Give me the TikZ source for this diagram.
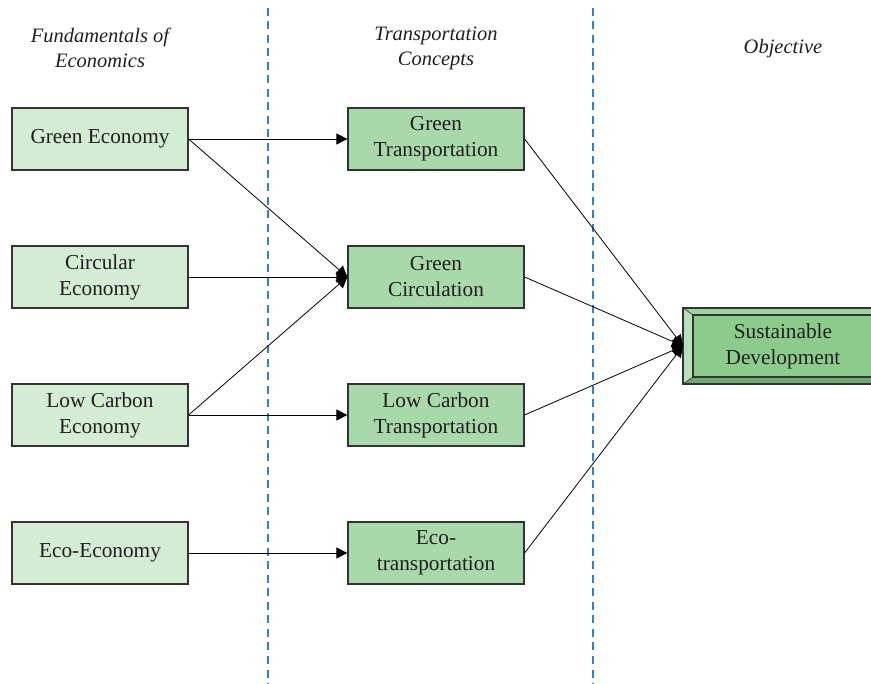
\documentclass[tikz,border=0pt]{standalone}
\usepackage{fontspec}
\setmainfont{Liberation Serif}
\usetikzlibrary{arrows.meta}
\definecolor{paleg}{HTML}{D4EBD4}
\definecolor{midg}{HTML}{A9D9AA}
\definecolor{goalg}{HTML}{8DCB8D}
\definecolor{goalbevL}{HTML}{B6E0B6}
\definecolor{goalbevB}{HTML}{6FA96F}
\definecolor{rule}{HTML}{2F80D0}
\definecolor{edge}{HTML}{333333}
\tikzset{
  every node/.style={font=\fontsize{21.3}{26}\selectfont, align=center, text=black!88},
  fundbox/.style={draw=edge, line width=1.2pt, fill=paleg, minimum width=176pt, minimum height=62pt, inner sep=0pt},
  conbox/.style={draw=edge, line width=1.2pt, fill=midg, minimum width=176pt, minimum height=62pt, inner sep=0pt},
  head/.style={font=\fontsize{20.5}{25}\selectfont\itshape},
  link/.style={draw=black, line width=0.8pt, -{Triangle[length=11pt,width=11pt]}},
  divider/.style={draw=rule, line width=1.2pt, dash pattern=on 8pt off 5.5pt}
}
\begin{document}
\begin{tikzpicture}[x=1pt, y=-1pt]
\useasboundingbox (0,0) rectangle (871,684);
\begin{scope}
\clip (0,0) rectangle (871,684);

% column dividers
\draw[divider] (268,8) -- (268,684);
\draw[divider] (593,8) -- (593,684);

% column headings
\node[head] (h1) at (100,48) {Fundamentals of\\Economics};
\node[head] (h2) at (436,48) {Transportation\\Concepts};
\node[head] (h3) at (783,49) {Objective};

% fundamentals
\node[fundbox] (ge) at (100,139) {Green Economy};
\node[fundbox] (ce) at (100,277) {Circular\\Economy};
\node[fundbox] (lc) at (100,415) {Low Carbon\\Economy};
\node[fundbox] (ee) at (100,553) {Eco-Economy};

% transportation concepts
\node[conbox] (gt) at (436,139) {Green\\Transportation};
\node[conbox] (gc) at (436,277) {Green\\Circulation};
\node[conbox] (lt) at (436,415) {Low Carbon\\Transportation};
\node[conbox] (et) at (436,553) {Eco-\\transportation};

% objective: bevelled box
\fill[goalbevL] (683,308) -- (693,315) -- (693,377) -- (683,384) -- cycle;
\fill[goalbevB] (683,384) -- (693,377) -- (880,377) -- (880,384) -- cycle;
\fill[goalg!85!white] (683,308) -- (880,308) -- (880,315) -- (693,315) -- cycle;
\fill[goalg] (693,315) rectangle (880,377);
\draw[edge, line width=1.2pt] (683,308) rectangle (880,384);
\draw[edge, line width=1.2pt] (693,315) rectangle (880,377);
\draw[edge, line width=0.6pt] (683,308) -- (693,315) (683,384) -- (693,377);
\node[inner sep=0pt] (sd) at (783,346) {Sustainable\\Development};
\coordinate (sdin) at (683,346);

% links
\draw[link] (ge.east) -- (gt.west);
\draw[link] (ge.east) -- (gc.west);
\draw[link] (ce.east) -- (gc.west);
\draw[link] (lc.east) -- (gc.west);
\draw[link] (lc.east) -- (lt.west);
\draw[link] (ee.east) -- (et.west);
\draw[link] (gt.east) -- (sdin);
\draw[link] (gc.east) -- (sdin);
\draw[link] (lt.east) -- (sdin);
\draw[link] (et.east) -- (sdin);
\end{scope}
\end{tikzpicture}
\end{document}
